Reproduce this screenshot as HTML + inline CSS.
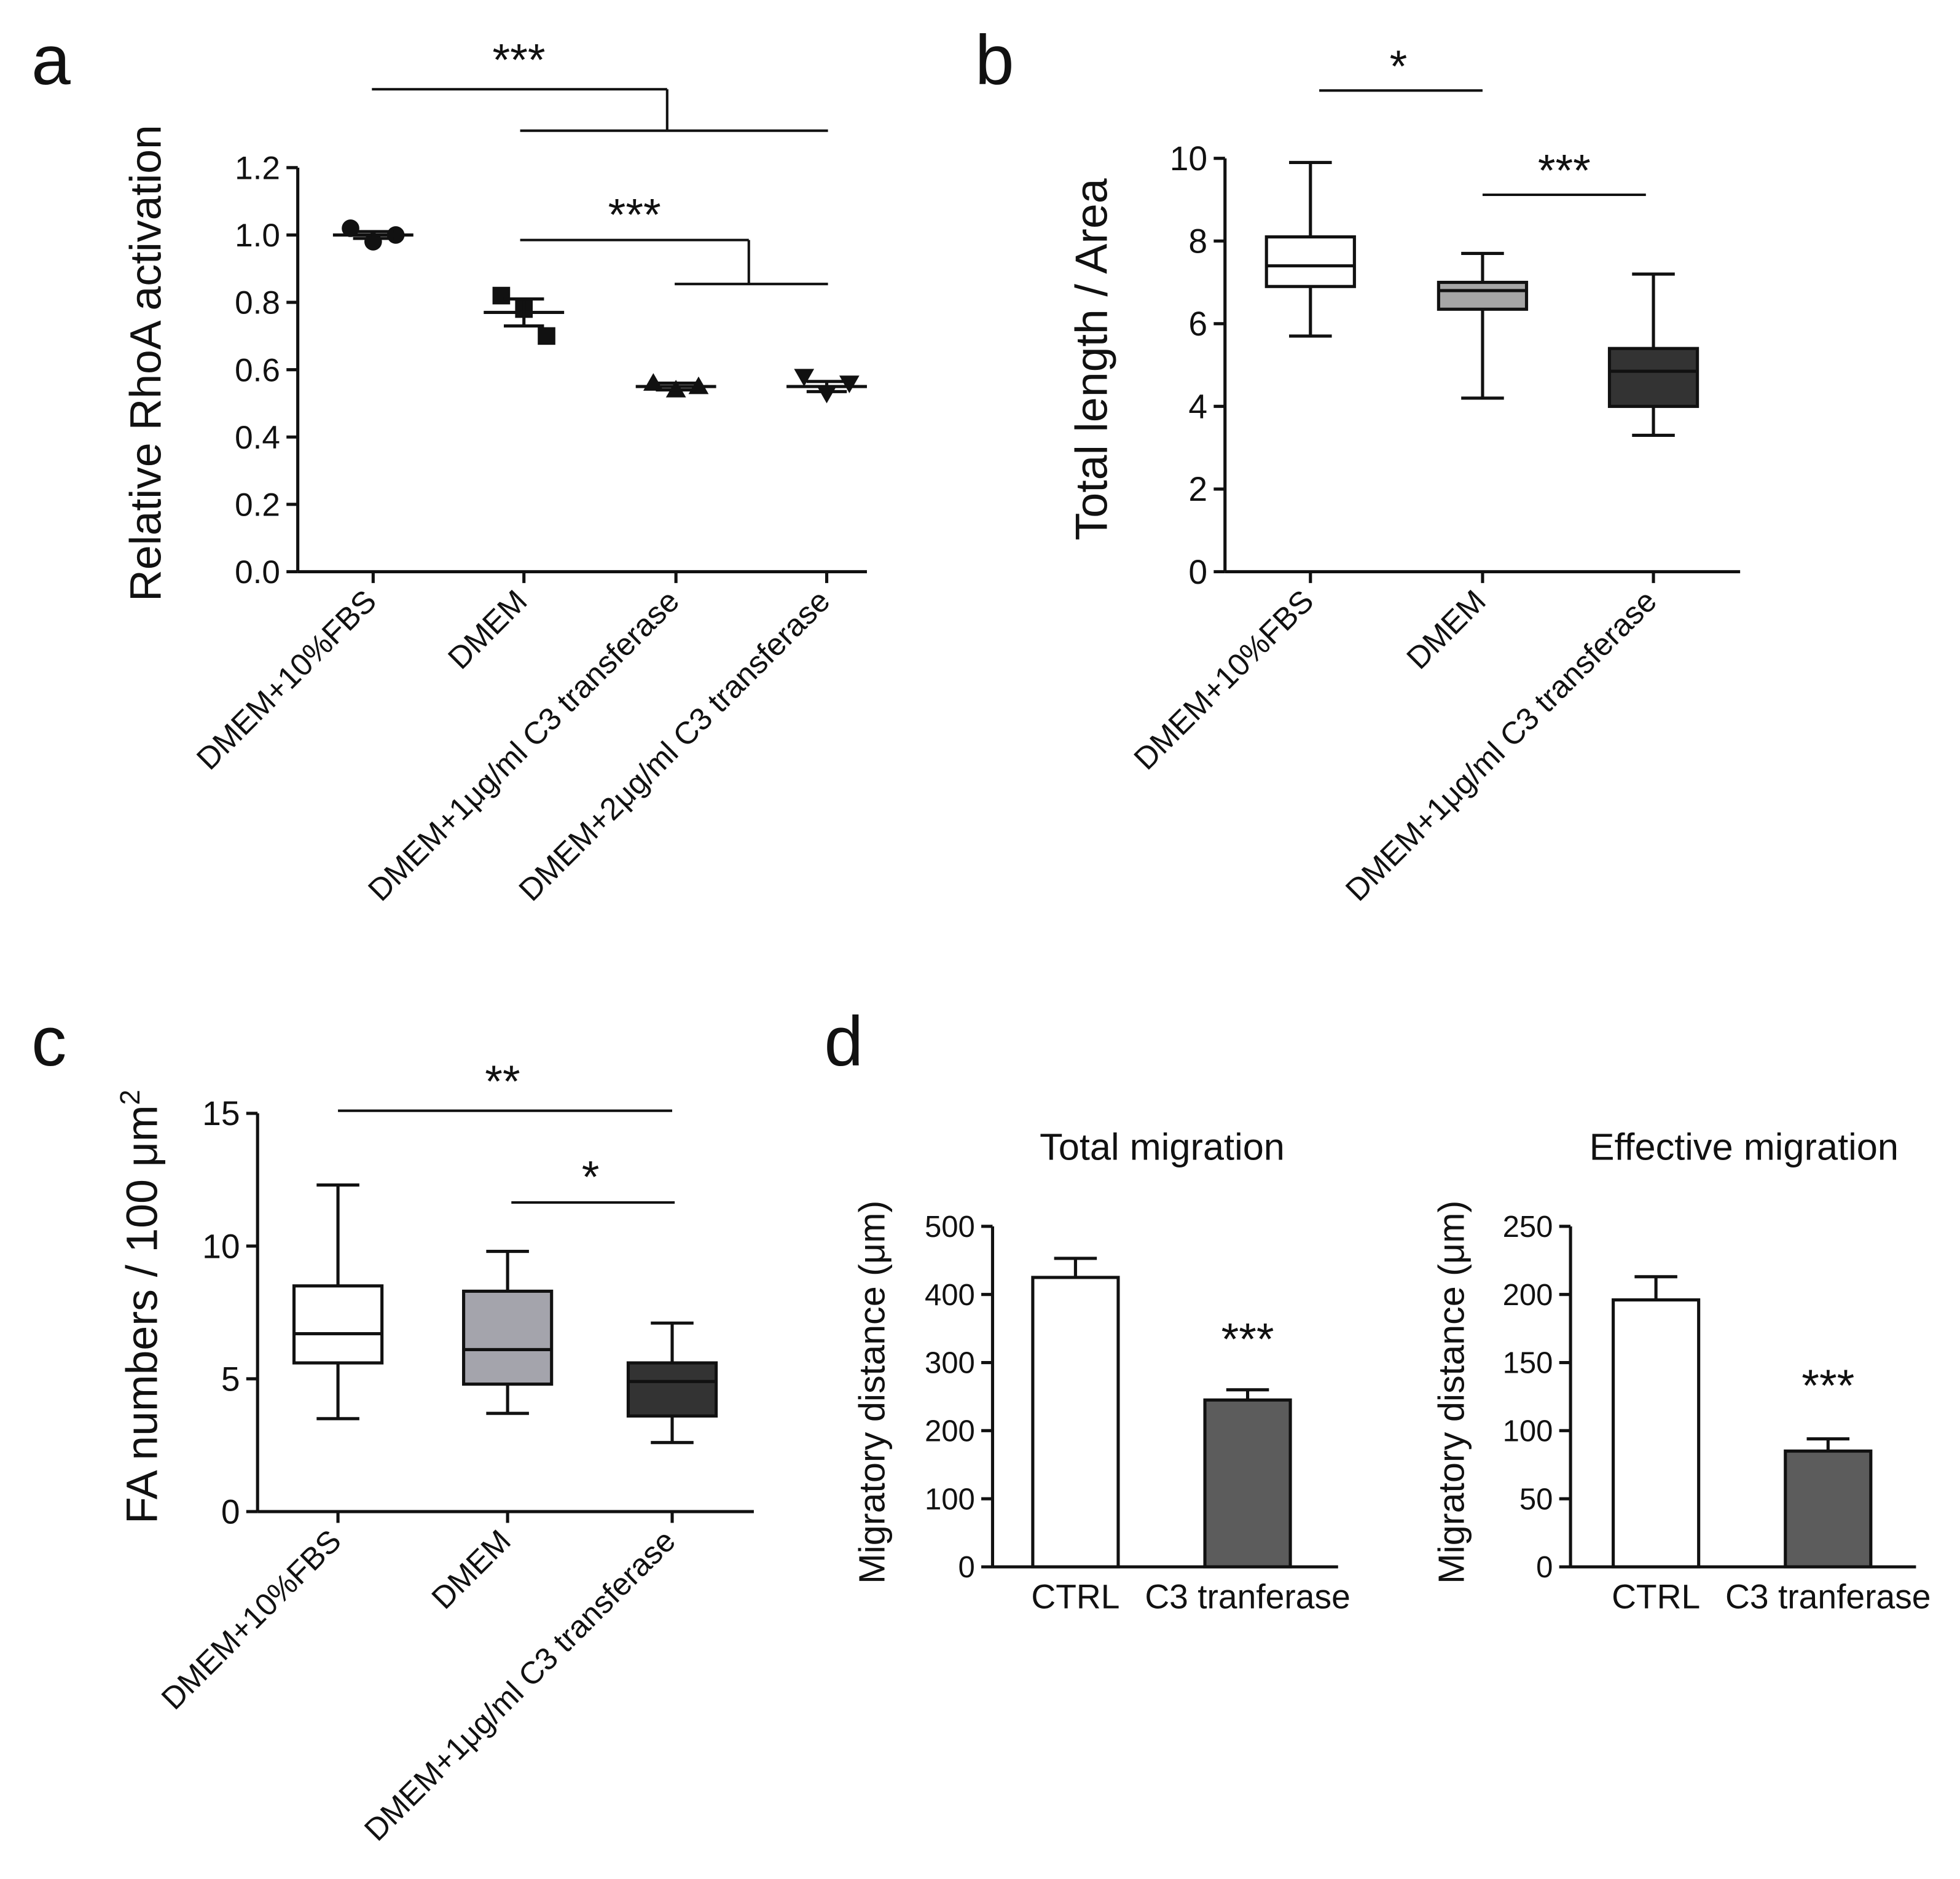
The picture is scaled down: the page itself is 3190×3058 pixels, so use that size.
<!DOCTYPE html>
<html><head><meta charset="utf-8"><style>
html,body{margin:0;padding:0;background:#fff}
svg{display:block}
text{font-family:"Liberation Sans",Arial,sans-serif;fill:#111}
</style></head><body>
<svg id="fig" width="3190" height="3058" viewBox="0 0 1560 1495.4" xmlns="http://www.w3.org/2000/svg">
<rect width="1560" height="1495.4" fill="#fff"/>
<text x="25" y="67" font-size="56">a</text>
<text x="776" y="67" font-size="56">b</text>
<text x="25" y="848" font-size="56">c</text>
<text x="656" y="848" font-size="56">d</text>
</svg>
<script>
// ---- Panel a data ----
const aCats=["DMEM+10%FBS","DMEM","DMEM+1\u03bcg/ml C3 transferase","DMEM+2\u03bcg/ml C3 transferase"];
const aPoints=[[1.02,0.98,1.0],[0.82,0.78,0.70],[0.56,0.54,0.55],[0.58,0.53,0.56]];
const aMeans=[1.0,0.77,0.55,0.55];
const aSem=[0.01,0.04,0.01,0.015];
const aTicks=[0,0.2,0.4,0.6,0.8,1.0,1.2];
// ---- Panel b data ----
const bCats=["DMEM+10%FBS","DMEM","DMEM+1\u03bcg/ml C3 transferase"];
const bMin=[5.7,4.2,3.3],bQ1=[6.9,6.35,4.0],bMed=[7.4,6.8,4.85],bQ3=[8.1,7.0,5.4],bMax=[9.9,7.7,7.2];
const bTicks=[0,2,4,6,8,10];
// ---- Panel c data ----
const cCats=["DMEM+10%FBS","DMEM","DMEM+1\u03bcg/ml C3 transferase"];
const cMin=[3.5,3.7,2.6],cQ1=[5.6,4.8,3.6],cMed=[6.7,6.1,4.9],cQ3=[8.5,8.3,5.6],cMax=[12.3,9.8,7.1];
const cTicks=[0,5,10,15];
// ---- Panel d data ----
const dCats=["CTRL","C3 tranferase"];
const dTotal=[425,245],dTotalErr=[28,15];
const dEff=[196,85],dEffErr=[17,9];
const dTotalTicks=[0,100,200,300,400,500];
const dEffTicks=[0,50,100,150,200,250];

const svg=document.getElementById('fig');
const NS="http://www.w3.org/2000/svg";
function el(tag,attrs,parent){const e=document.createElementNS(NS,tag);for(const k in attrs)e.setAttribute(k,attrs[k]);(parent||svg).appendChild(e);return e;}
function line(x1,y1,x2,y2,w,p){return el('line',{x1,y1,x2,y2,stroke:'#111','stroke-width':w||2.5},p);}
function txt(x,y,s,size,anchor,p,extra){const t=el('text',Object.assign({x,y,'font-size':size,'text-anchor':anchor||'middle'},extra||{}),p);t.textContent=s;return t;}
function group(name){const g=el('g',{});return g;}
function yAxis(g,x,yFn,ticks,fmt,size){const ys=ticks.map(yFn);line(x,Math.min(...ys),x,Math.max(...ys),2.5,g);ticks.forEach(t=>{line(x-9,yFn(t),x,yFn(t),2.5,g);txt(x-14,yFn(t)+size*0.35,fmt(t),size,'end',g);});}
function rotLabels(g,xs,y,labels,size){labels.forEach((s,i)=>{txt(xs[i]+4,y,s,size,'end',g,{transform:`rotate(-45 ${xs[i]+4} ${y})`});});}

// ===== Panel a =====
(function(){
const g=group('panel-a-scatter');
const x0=237,y0=455,k=268;const y=v=>y0-v*k;const xs=[297,417,538,658];
yAxis(g,x0,y,aTicks,t=>t.toFixed(1),26);
line(x0,y0,690,y0,2.5,g);xs.forEach(x=>line(x,y0,x,y0+9,2.5,g));
rotLabels(g,xs,480,aCats,25);
txt(128,289,"Relative RhoA activation",35,'middle',g,{transform:'rotate(-90 128 289)'});
const offs=[-18,0,18];
aPoints.forEach((pts,i)=>{pts.forEach((v,j)=>{const cx=xs[i]+offs[j],cy=y(v);let m;
 if(i===0)m=el('circle',{cx,cy,r:7,fill:'#111'},g);
 else if(i===1)m=el('rect',{x:cx-7,y:cy-7,width:14,height:14,fill:'#111'},g);
 else if(i===2)m=el('polygon',{points:`${cx},${cy-8} ${cx-8},${cy+6} ${cx+8},${cy+6}`,fill:'#111'},g);
 else m=el('polygon',{points:`${cx},${cy+8} ${cx-8},${cy-6} ${cx+8},${cy-6}`,fill:'#111'},g);
 });
 line(xs[i]-32,y(aMeans[i]),xs[i]+32,y(aMeans[i]),2.5,g);
 line(xs[i],y(aMeans[i]+aSem[i]),xs[i],y(aMeans[i]-aSem[i]),2.5,g);
 line(xs[i]-16,y(aMeans[i]+aSem[i]),xs[i]+16,y(aMeans[i]+aSem[i]),2.5,g);
 line(xs[i]-16,y(aMeans[i]-aSem[i]),xs[i]+16,y(aMeans[i]-aSem[i]),2.5,g);});
line(296,71,531,71,2,g);line(531,71,531,104,2,g);line(414,104,659,104,2,g);txt(413,60,"***",36,'middle',g);
line(414,191,596,191,2,g);line(596,191,596,226,2,g);line(537,226,659,226,2,g);txt(505,183,"***",36,'middle',g);
})();

function boxes(g,xs,y,mn,q1,md,q3,mx,fills,w){xs.forEach((x,i)=>{
 line(x,y(mx[i]),x,y(q3[i]),2.5,g);line(x,y(q1[i]),x,y(mn[i]),2.5,g);
 line(x-17,y(mx[i]),x+17,y(mx[i]),2.5,g);line(x-17,y(mn[i]),x+17,y(mn[i]),2.5,g);
 const r=el('rect',{x:x-w/2,y:y(q3[i]),width:w,height:y(q1[i])-y(q3[i]),fill:fills[i],stroke:'#111','stroke-width':2.5},g);
 
 line(x-w/2,y(md[i]),x+w/2,y(md[i]),2.5,g);});}

// ===== Panel b =====
(function(){
const g=group('panel-b-boxplot');
const x0=975,y0=455,k=32.9;const y=v=>y0-v*k;const xs=[1043,1180,1316];
yAxis(g,x0,y,bTicks,t=>String(t),27);
line(x0,y0,1385,y0,2.5,g);xs.forEach(x=>line(x,y0,x,y0+9,2.5,g));
rotLabels(g,xs,480,bCats,25);
txt(881,286,"Total length / Area",36,'middle',g,{transform:'rotate(-90 881 286)'});
boxes(g,xs,y,bMin,bQ1,bMed,bQ3,bMax,['#fff','#a6a6a6','#333'],70);
line(1050,72,1180,72,2,g);txt(1113,65,"*",36,'middle',g);
line(1180,155,1310,155,2,g);txt(1245,148,"***",36,'middle',g);
})();

// ===== Panel c =====
(function(){
const g=group('panel-c-boxplot');
const x0=205,y0=1203,k=21.13;const y=v=>y0-v*k;const xs=[269,404,535];
yAxis(g,x0,y,cTicks,t=>String(t),27);
line(x0,y0,600,y0,2.5,g);xs.forEach(x=>line(x,y0,x,y0+9,2.5,g));
rotLabels(g,xs,1228,cCats,25);
const t=txt(125,1040,"FA numbers / 100 \u03bcm",35,'middle',g,{transform:'rotate(-90 125 1040)'});
const s=el('tspan',{'font-size':22,dy:-14},t);s.textContent="2";
boxes(g,xs,y,cMin,cQ1,cMed,cQ3,cMax,['#fff','#a4a4ac','#333'],70);
line(269,884,535,884,2,g);txt(400,873,"**",36,'middle',g);
line(407,957,537,957,2,g);txt(470,949,"*",36,'middle',g);
})();

// ===== Panel d =====
function bars(name,x0,y0,top,maxV,ticks,vals,errs,xs,title,titleX,starY,labelX){
 const g=group(name);const k=(y0-top)/maxV;const y=v=>y0-v*k;
 yAxis(g,x0,y,ticks,t=>String(t),24);
 line(x0,y0,x0+275,y0,2.5,g);
 const fills=['#fff','#5c5c5c'];
 vals.forEach((v,i)=>{const x=xs[i];
  line(x,y(v+errs[i]),x,y(v),2.5,g);line(x-17,y(v+errs[i]),x+17,y(v+errs[i]),2.5,g);
  const r=el('rect',{x:x-34,y:y(v),width:68,height:y0-y(v),fill:fills[i],stroke:'#111','stroke-width':2.5},g);
  
  txt(x,1280,dCats[i],27,'middle',g);});
 txt(titleX,923,title,30,'middle',g);
 txt(xs[1],starY,"***",36,'middle',g);
 txt(labelX,1108,"Migratory distance (\u03bcm)",29,'middle',g,{transform:`rotate(-90 ${labelX} 1108)`});
}
bars('panel-d-total',790,1247,976,500,dTotalTicks,dTotal,dTotalErr,[856,993],"Total migration",925,1078,704);
bars('panel-d-effective',1250,1247,976,250,dEffTicks,dEff,dEffErr,[1318,1455],"Effective migration",1388,1115,1165);
</script>
</body></html>
